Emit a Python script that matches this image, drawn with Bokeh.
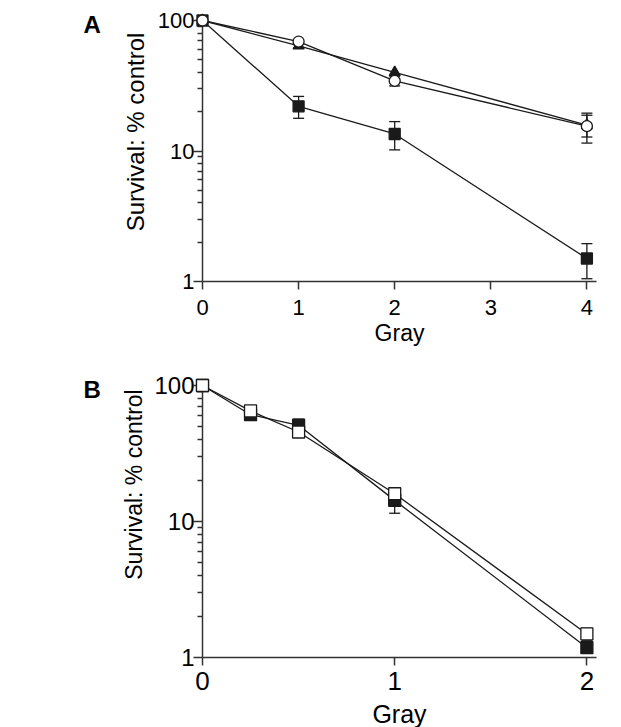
import math
from bokeh.plotting import figure
from bokeh.layouts import column
from bokeh.models import Range1d, FixedTicker, PrintfTickFormatter
from bokeh.core.properties import value
from bokeh.embed import file_html
from bokeh.resources import INLINE

# ---------------- data ----------------
# Panel A
a_dose = [0, 1, 2, 4]
a_square = [100, 22, 13.5, 1.5]
a_square_err = [0, 4.2, 3.3, 0.45]
a_triangle = [100, 64, 40, 15.8]
a_triangle_err = [0, 2.5, 0, 3.0]
a_circle = [100, 69, 34.5, 15.5]
a_circle_err = [0, 0, 3.0, 4.0]
a_xticks = [0, 1, 2, 3, 4]

# Panel B
b_dose = [0, 0.25, 0.5, 1, 2]
b_filled = [100, 61, 51, 14.3, 1.18]
b_filled_err = [0, 2, 5.5, 2.8, 0.1]
b_open = [100, 65, 45.5, 16, 1.49]
b_open_err = [0, 2, 2, 1.5, 0.15]
b_xticks = [0, 1, 2]

y_ticks = [1, 10, 100]
y_label = "Survival: % control"
x_label = "Gray"

INK = "#1a1a1a"
AXIS = "#333333"
LW = 1.3
FONT = "Liberation Sans"


def minor_ticks(majors):
    out = []
    for m in majors[:-1]:
        out += [m * k for k in range(2, 10)]
    return out


def make_fig(width, height, xr, borders, xtick_size, ytick_size, x_standoff):
    p = figure(width=width, height=height, x_range=Range1d(*xr), y_range=Range1d(1, 100),
               y_axis_type="log", output_backend="svg", toolbar_location=None,
               min_border_left=borders[0], min_border_right=borders[1],
               min_border_top=borders[2], min_border_bottom=borders[3])
    p.outline_line_color = None
    p.grid.visible = False
    p.background_fill_color = "white"
    p.border_fill_color = "white"
    for ax in p.axis:
        ax.axis_line_color = AXIS
        ax.axis_line_width = 1.5
        ax.major_tick_line_color = AXIS
        ax.major_tick_line_width = 1.5
        ax.minor_tick_line_color = AXIS
        ax.minor_tick_line_width = 1.3
        ax.major_tick_in = 0
        ax.minor_tick_in = 0
        ax.major_label_text_font = FONT
        ax.major_label_text_color = "black"
    p.xaxis.major_label_text_font_size = xtick_size
    p.yaxis.major_label_text_font_size = ytick_size
    p.yaxis.ticker = FixedTicker(ticks=y_ticks, minor_ticks=minor_ticks(y_ticks))
    p.yaxis.formatter = PrintfTickFormatter(format="%d")
    p.yaxis.major_tick_out = 9
    p.yaxis.minor_tick_out = 5
    p.yaxis.major_label_standoff = -1
    p.xaxis.major_tick_out = 8
    p.xaxis.minor_tick_line_color = None
    p.xaxis.formatter = PrintfTickFormatter(format="%d")
    p.xaxis.major_label_standoff = x_standoff
    return p


def add_errbars(p, xs, ys, es, cap):
    pts = [(x, y, e) for x, y, e in zip(xs, ys, es) if e > 0]
    if not pts:
        return
    x = [t[0] for t in pts]
    lo = [t[1] - t[2] for t in pts]
    hi = [t[1] + t[2] for t in pts]
    p.segment(x0=x, y0=lo, x1=x, y1=hi, line_color=INK, line_width=LW, level="overlay")
    p.scatter(x + x, lo + hi, marker="dash", size=cap, line_color=INK, line_width=LW,
              level="overlay")


def add_labels(p, ylab_dx, ylab_dy, ylab_size, xlab_dy, xlab_size, letter, letter_dy):
    xc = (p.x_range.start + p.x_range.end) / 2
    p.text(x=[0], y=[10], text=[y_label], x_offset=ylab_dx, y_offset=ylab_dy,
           angle=math.pi / 2, text_align="center", text_baseline="middle",
           text_font=value(FONT), text_font_size=ylab_size, text_color="black",
           level="overlay")
    p.text(x=[xc], y=[1], text=[x_label], y_offset=xlab_dy,
           text_align="center", text_baseline="alphabetic",
           text_font=value(FONT), text_font_size=xlab_size, text_color="black",
           level="overlay")
    p.text(x=[0], y=[100], text=[letter], x_offset=-119, y_offset=letter_dy,
           text_align="left", text_baseline="alphabetic",
           text_font=value(FONT), text_font_style="bold", text_font_size="24px",
           text_color="black", level="overlay")


# ---------------- panel A ----------------
pa = make_fig(620, 360, (0, 4.1), (202, 24, 20, 79), "22px", "22px", 10)
pa.xaxis.ticker = FixedTicker(ticks=a_xticks)

for ys in (a_square, a_triangle, a_circle):
    pa.line(a_dose, ys, line_color=INK, line_width=LW, level="overlay")
add_errbars(pa, a_dose, a_square, a_square_err, 11)
add_errbars(pa, a_dose, a_triangle, a_triangle_err, 11)
add_errbars(pa, a_dose, a_circle, a_circle_err, 11)
pa.scatter(a_dose, a_square, marker="square", size=11, fill_color=INK, line_color=INK,
           line_width=LW, level="overlay")
pa.scatter(a_dose, a_triangle, marker="triangle", size=11, fill_color=INK, line_color=INK,
           line_width=LW, level="overlay")
pa.scatter(a_dose, a_circle, marker="circle", size=11, fill_color="white", line_color=INK,
           line_width=LW, level="overlay")
add_labels(pa, -67, -19, "24px", 51, "23px", "A", 4)

# ---------------- panel B ----------------
pb = make_fig(620, 367, (0, 2.05), (202, 8, 25, 70), "26px", "24px", 6)
pb.xaxis.ticker = FixedTicker(ticks=b_xticks)

for ys in (b_filled, b_open):
    pb.line(b_dose, ys, line_color=INK, line_width=LW, level="overlay")
add_errbars(pb, b_dose, b_filled, b_filled_err, 11)
add_errbars(pb, b_dose, b_open, b_open_err, 11)
pb.scatter(b_dose, b_filled, marker="square", size=12, fill_color=INK, line_color=INK,
           line_width=LW, level="overlay")
pb.scatter(b_dose, b_open, marker="square", size=12, fill_color="white", line_color=INK,
           line_width=LW, level="overlay")
add_labels(pb, -69, -37, "23px", 56, "25px", "B", 4)

layout = column(pa, pb)
open("out.html", "w").write(file_html(layout, INLINE))
